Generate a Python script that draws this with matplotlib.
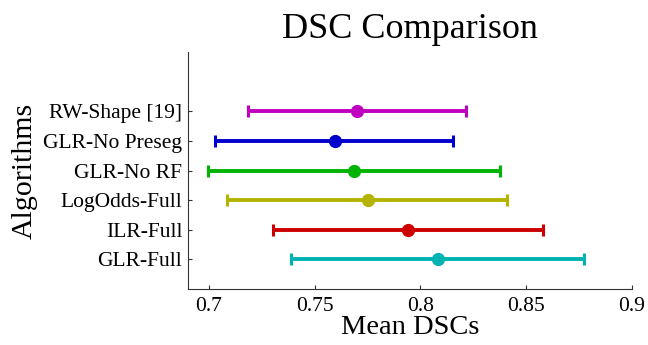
import matplotlib
matplotlib.use("Agg")
import matplotlib.pyplot as plt
import numpy as np

algorithms = ["GLR-Full", "ILR-Full", "LogOdds-Full", "GLR-No RF", "GLR-No Preseg", "RW-Shape [19]"]
means = [0.8082, 0.7942, 0.7750, 0.7687, 0.7594, 0.7701]
lower = [0.7386, 0.7304, 0.7087, 0.6995, 0.7027, 0.7184]
upper = [0.8775, 0.8582, 0.8408, 0.8378, 0.8156, 0.8216]
colors = ["#00B3B3", "#CC0000", "#B3B300", "#00B300", "#0000CC", "#BF00BF"]
xticks = [0.7, 0.75, 0.8, 0.85, 0.9]

plt.rcParams['font.family'] = ['Liberation Serif', 'DejaVu Serif']

fig = plt.figure(figsize=(6.48, 3.45), dpi=100)
ax = fig.add_axes([0.290, 0.1623, 0.685, 0.6867])

for i, (m, lo, hi, c) in enumerate(zip(means, lower, upper, colors)):
    y = i + 1
    ax.errorbar(m, y, xerr=[[m - lo], [hi - m]], fmt='o', color=c, ecolor=c,
                elinewidth=2.8, capsize=4, capthick=2.2, markersize=8.5)

ax.set_xlim(0.69, 0.9)
ax.set_ylim(0, 8)
ax.set_xticks(xticks)
ax.set_xticklabels([f"{v:g}" for v in xticks])
ax.set_yticks(range(1, len(algorithms) + 1))
ax.set_yticklabels(algorithms)
ax.tick_params(axis='both', direction='in', length=3, width=0.8, colors='#333333', labelcolor='black')
ax.tick_params(axis='x', pad=6, labelsize=15.5)
ax.tick_params(axis='y', pad=4, labelsize=15.5)
for s in ['top', 'right']:
    ax.spines[s].set_visible(False)
for s in ['left', 'bottom']:
    ax.spines[s].set_color('#333333')
    ax.spines[s].set_linewidth(0.8)

ax.set_xlabel("Mean DSCs", fontsize=20.5, labelpad=-1)
ax.set_ylabel("Algorithms", fontsize=21.5, labelpad=4)
ax.set_title("DSC Comparison", fontsize=26, pad=10)

fig.savefig("out.png", dpi=100)
